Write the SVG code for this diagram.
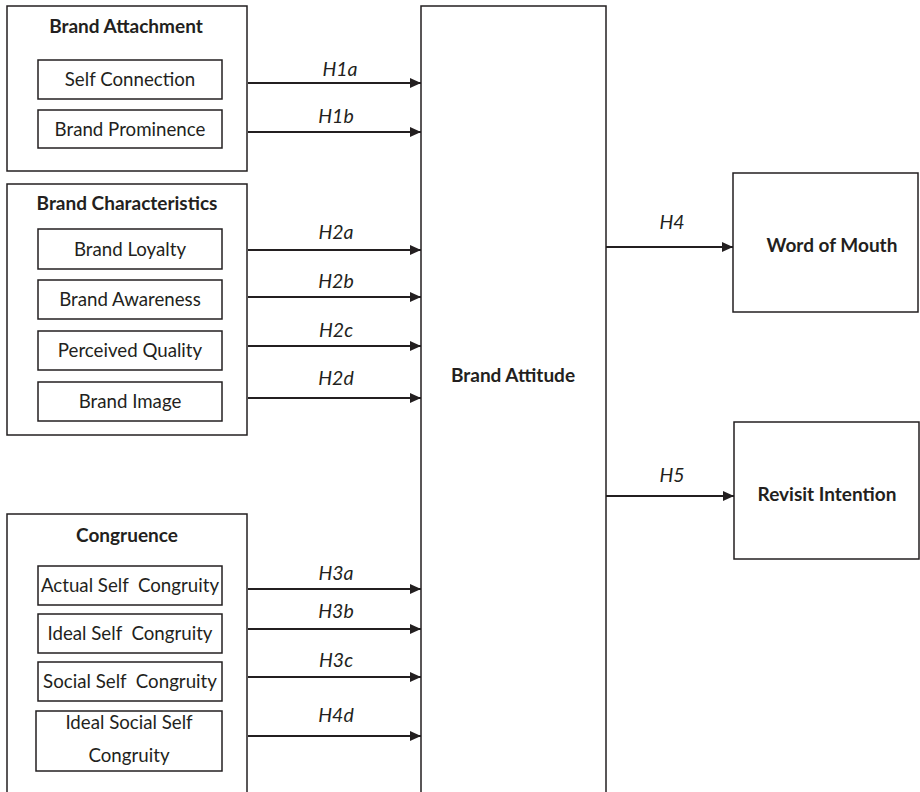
<svg xmlns="http://www.w3.org/2000/svg" width="920" height="792" viewBox="0 0 920 792">
<defs>
<marker id="ah" viewBox="0 0 11 10" refX="11" refY="5" markerWidth="11" markerHeight="10" markerUnits="userSpaceOnUse" orient="auto">
<path d="M0,0 L11,5 L0,10 Z" fill="#231f20"/>
</marker>
<style>
.box{fill:#fff;stroke:#231f20;stroke-width:1.5}
.t{font-family:Lato,"Liberation Sans",sans-serif;font-size:18.7px;fill:#231f20;text-anchor:middle}
.b{font-family:Lato,"Liberation Sans",sans-serif;font-size:19px;font-weight:bold;fill:#231f20;text-anchor:middle}
.h{font-family:Lato,"Liberation Sans",sans-serif;font-size:19.5px;font-style:italic;fill:#231f20;text-anchor:middle}
.c{stroke:#231f20;stroke-width:2;fill:none;marker-end:url(#ah)}
</style>
</defs>
<rect width="920" height="792" fill="#fff"/>

<g id="brand-attachment">
<rect class="box" x="7" y="6" width="240" height="165"/>
<text class="b" x="126" y="33">Brand Attachment</text>
</g>
<g id="self-connection">
<rect class="box" x="38" y="60" width="184" height="39"/>
<text class="t" x="130" y="86">Self Connection</text>
</g>
<g id="brand-prominence">
<rect class="box" x="38" y="110" width="184" height="38"/>
<text class="t" x="130" y="136">Brand Prominence</text>
</g>

<g id="brand-characteristics">
<rect class="box" x="7" y="184" width="240" height="251"/>
<text class="b" x="127" y="210">Brand Characteristics</text>
</g>
<g id="brand-loyalty">
<rect class="box" x="38" y="229" width="184" height="40"/>
<text class="t" x="130" y="256">Brand Loyalty</text>
</g>
<g id="brand-awareness">
<rect class="box" x="38" y="280" width="184" height="39"/>
<text class="t" x="130" y="306">Brand Awareness</text>
</g>
<g id="perceived-quality">
<rect class="box" x="38" y="331" width="184" height="39"/>
<text class="t" x="130" y="357">Perceived Quality</text>
</g>
<g id="brand-image">
<rect class="box" x="38" y="382" width="184" height="39"/>
<text class="t" x="130" y="408">Brand Image</text>
</g>

<g id="congruence">
<rect class="box" x="7" y="514" width="240" height="300"/>
<text class="b" x="127" y="542">Congruence</text>
</g>
<g id="actual-self-congruity">
<rect class="box" x="38" y="566" width="184" height="39"/>
<text class="t" x="130" y="592" xml:space="preserve">Actual Self  Congruity</text>
</g>
<g id="ideal-self-congruity">
<rect class="box" x="38" y="614" width="184" height="39"/>
<text class="t" x="130" y="640" xml:space="preserve">Ideal Self  Congruity</text>
</g>
<g id="social-self-congruity">
<rect class="box" x="38" y="662" width="184" height="39"/>
<text class="t" x="130" y="688" xml:space="preserve">Social Self  Congruity</text>
</g>
<g id="ideal-social-self-congruity">
<rect class="box" x="36" y="711" width="186" height="60"/>
<text class="t" x="129" y="729">Ideal Social Self</text>
<text class="t" x="129" y="762">Congruity</text>
</g>

<g id="brand-attitude">
<rect class="box" x="421" y="6" width="185" height="810"/>
<text class="b" x="513" y="382">Brand Attitude</text>
</g>

<g id="word-of-mouth">
<rect class="box" x="733" y="173" width="185" height="139"/>
<text class="b" x="832" y="252">Word of Mouth</text>
</g>
<g id="revisit-intention">
<rect class="box" x="734" y="422" width="185" height="137"/>
<text class="b" x="827" y="501">Revisit Intention</text>
</g>

<g id="connectors">
<line class="c" x1="248" y1="83" x2="421" y2="83"/>
<line class="c" x1="248" y1="132" x2="421" y2="132"/>
<line class="c" x1="248" y1="250" x2="421" y2="250"/>
<line class="c" x1="248" y1="297" x2="421" y2="297"/>
<line class="c" x1="248" y1="346" x2="421" y2="346"/>
<line class="c" x1="248" y1="398" x2="421" y2="398"/>
<line class="c" x1="248" y1="589" x2="421" y2="589"/>
<line class="c" x1="248" y1="629" x2="421" y2="629"/>
<line class="c" x1="248" y1="677" x2="421" y2="677"/>
<line class="c" x1="248" y1="736" x2="421" y2="736"/>
<line class="c" x1="606" y1="247" x2="733" y2="247"/>
<line class="c" x1="606" y1="496" x2="734" y2="496"/>
<text class="h" x="340" y="76">H1a</text>
<text class="h" x="336" y="123">H1b</text>
<text class="h" x="336" y="239">H2a</text>
<text class="h" x="336" y="288">H2b</text>
<text class="h" x="336" y="337">H2c</text>
<text class="h" x="336" y="385">H2d</text>
<text class="h" x="336" y="580">H3a</text>
<text class="h" x="336" y="618">H3b</text>
<text class="h" x="336" y="667">H3c</text>
<text class="h" x="336" y="722">H4d</text>
<text class="h" x="672" y="229">H4</text>
<text class="h" x="672" y="482">H5</text>
</g>
</svg>
